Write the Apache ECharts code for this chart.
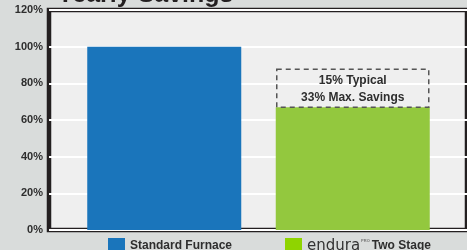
<!DOCTYPE html>
<html><head><meta charset="utf-8">
<script src="https://cdn.jsdelivr.net/npm/echarts@6/dist/echarts.min.js"></script>
<style>html,body{margin:0;padding:0;background:#d9dcdb;}#c{width:467px;height:250px;}</style>
</head><body><div id="c"></div>
<script>
const categories = ['Standard Furnace', 'endura Two Stage'];
const seriesNames = ['Standard Furnace', 'endura Two Stage'];
const standardValues = [100, '-'];
const enduraValues = ['-', 67];
const yTicks = [0, 20, 40, 60, 80, 100, 120];
const noteLines = ['15% Typical', '33% Max. Savings'];
const titleText = 'Yearly Savings';

const sans = '"Liberation Sans", Arial, sans-serif';
const legendText = {fontFamily: sans, fontWeight: 'bold', fontSize: 12, color: '#2e2e2e',
  rich: {
    e: {fontFamily: '"DejaVu Sans", sans-serif', fontWeight: 'normal', fontSize: 15, color: '#333'},
    p: {fontFamily: sans, fontSize: 4, color: '#777', verticalAlign: 'top', padding: [0, 2, 8, 1]},
    t: {fontFamily: sans, fontWeight: 'bold', fontSize: 12, color: '#2e2e2e'}
  }};
function legendFmt(n) {
  if (n.indexOf('endura') === 0) return '{e|endura}{p|PRO}{t|' + n.slice(7) + '}';
  return n;
}
const chart = echarts.init(document.getElementById('c'), null, {renderer: 'canvas'});
chart.setOption({
  backgroundColor: '#d9dcdb',
  animation: false,
  color: ['#1a75bb', '#8fd400'],
  title: {
    text: titleText, left: 52, top: -22,
    textStyle: {fontFamily: sans, fontWeight: 'bold', fontSize: 25, color: '#231f20'}
  },
  legend: [
    {left: 103, top: 233, itemWidth: 17, itemHeight: 16, icon: 'rect', data: [seriesNames[0]],
     textStyle: legendText, formatter: legendFmt, itemStyle: {color: '#1a75bb'}},
    {left: 280, top: 233, itemWidth: 17, itemHeight: 16, icon: 'rect', data: [seriesNames[1]],
     textStyle: legendText, formatter: legendFmt, itemStyle: {color: '#8fd400'}}
  ],
  grid: [
    {left: 49, right: -20, top: 10, bottom: 20, show: true, backgroundColor: '#efefef', borderColor: '#231f20', borderWidth: 4.5, containLabel: false},
    {left: 70, right: 20, top: 10, bottom: 20, containLabel: false}
  ],
  xAxis: [
    {gridIndex: 0, type: 'category', data: [''], show: false},
    {gridIndex: 1, type: 'category', data: categories, show: false}
  ],
  yAxis: [
    {gridIndex: 0, type: 'value', min: yTicks[0], max: yTicks[yTicks.length-1], interval: 20,
     axisLine: {show: false}, axisTick: {show: false},
     axisLabel: {formatter: '{value}%', fontFamily: sans, fontWeight: 'bold', fontSize: 11, color: '#2e2e2e', margin: 6},
     splitLine: {lineStyle: {color: '#ffffff', width: 2}}},
    {gridIndex: 1, type: 'value', min: yTicks[0], max: yTicks[yTicks.length-1], interval: 20, show: false, splitLine: {show: false}}
  ],
  series: [
    {name: seriesNames[0], type: 'bar', xAxisIndex: 1, yAxisIndex: 1, data: standardValues, barWidth: 154, barGap: '-100%',
     itemStyle: {color: '#1a75bb'}},
    {name: seriesNames[1], type: 'bar', xAxisIndex: 1, yAxisIndex: 1, barWidth: 154, barGap: '-100%',
     itemStyle: {color: '#93c83e'},
     data: enduraValues.map(function (v) {
       if (v === '-') return v;
       return {value: v, label: {
         show: true, position: 'top', distance: 0,
         formatter: noteLines.join('\n'),
         width: 152, align: 'center', lineHeight: 17, padding: [3, 0, 1, 0],
         borderColor: '#555', borderWidth: 1.5, borderType: [5, 4],
         fontFamily: sans, fontWeight: 'bold', fontSize: 12, color: '#2e2e2e'
       }};
     })}
  ]
});
</script></body></html>
